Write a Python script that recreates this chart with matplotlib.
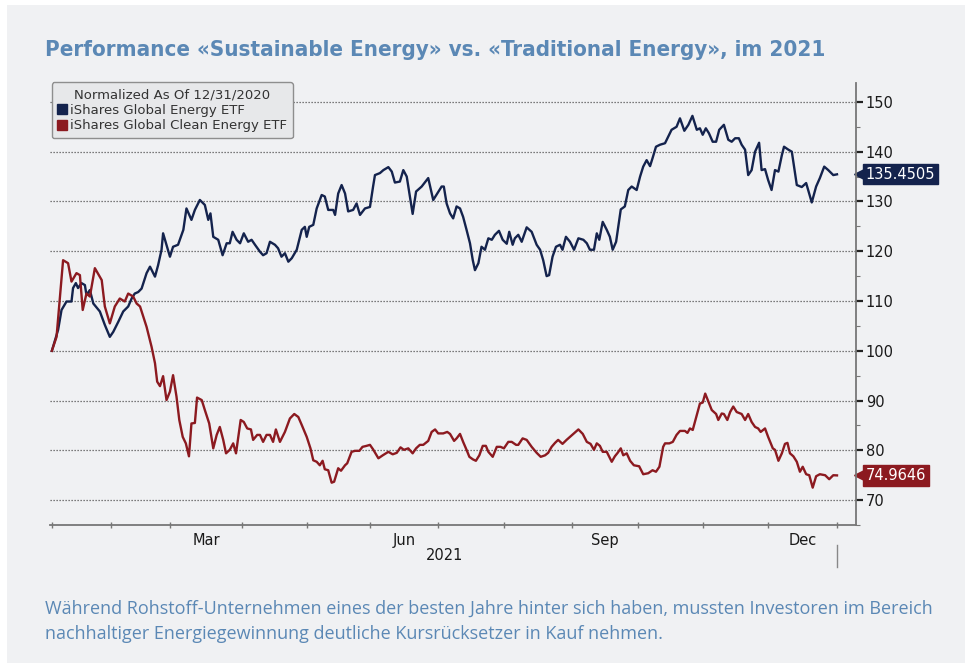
import numpy as np
import pandas as pd
import matplotlib
matplotlib.use("Agg")
import matplotlib.pyplot as plt
from matplotlib.lines import Line2D
from matplotlib.patches import Rectangle
from matplotlib import transforms

# trading sessions since 12/31/2020 (x) and normalized prices (y)
energy_x = [0, 2.0, 3.1, 4.7, 6.3, 6.8, 7.7, 8.4, 9.5, 10.6, 11.1, 12.2, 13.3, 15.4, 17.0, 18.6,
            19.7, 21.3, 22.9, 24.5, 25.6, 26.6, 27.7, 28.8, 30.4, 31.5, 33.1, 34.1, 35.2, 35.7,
            37.9, 38.9, 40.5, 42.2, 43.2, 44.8, 45.9, 47.5, 49.1, 50.2, 50.9, 51.8, 53.4, 54.8,
            56.1, 57.1, 58.0, 59.3, 60.4, 61.6, 63.0, 64.1, 65.2, 66.8, 67.8, 68.9, 70.0, 71.6,
            72.6, 73.7, 74.8, 75.9, 77.0, 78.6, 80.2, 81.2, 81.8, 82.6, 83.9, 85.0, 86.6, 87.6,
            88.7, 90.3, 90.9, 91.9, 93.0, 94.1, 95.1, 96.7, 97.8, 98.9, 100.5, 102.1, 103.1,
            103.7, 105.3, 106.4, 108.0, 109.1, 110.1, 111.7, 112.8, 113.9, 114.9, 115.8, 116.9,
            118.7, 120.8, 122.4, 125.1, 125.8, 126.7, 127.8, 128.8, 129.9, 131.0, 132.0, 133.1,
            134.2, 135.1, 135.8, 136.9, 137.9, 139.0, 140.1, 141.2, 142.2, 143.5, 144.7, 146.0,
            146.8, 147.9, 148.6, 149.7, 150.8, 152.4, 154.0, 155.6, 156.7, 157.7, 158.8, 159.6,
            160.7, 161.8, 163.1, 163.9, 165.0, 166.3, 167.6, 169.0, 170.6, 171.7, 172.7, 174.0,
            174.9, 175.7, 176.8, 178.1, 179.1, 180.0, 181.1, 182.6, 183.9, 185.0, 186.1, 187.7,
            188.8, 189.8, 190.9, 192.0, 192.8, 193.9, 195.2, 196.8, 197.8, 198.9, 200.5, 201.6,
            203.0, 204.3, 205.6, 207.0, 208.0, 208.9, 209.9, 210.9, 212.1, 213.2, 214.2, 215.7,
            217.1, 218.2, 219.3, 220.5, 221.4, 222.5, 223.5, 224.6, 225.7, 227.0, 227.8, 228.9,
            229.9, 231.0, 232.1, 233.2, 234.3, 235.0, 236.4, 237.5, 239.1, 240.7, 242.1, 243.9,
            245.3, 246.5, 247.9, 249.2, 250.8, 252]
energy_y = [100.0, 104.2, 108.2, 109.9, 109.9, 112.6, 113.6, 112.6, 113.6, 113.2, 111.2, 112.2,
            109.5, 107.9, 105.2, 102.8, 103.8, 105.8, 107.9, 108.9, 110.5, 111.5, 111.8, 112.5,
            115.6, 116.9, 114.9, 117.2, 120.3, 123.6, 118.9, 120.9, 121.3, 124.3, 128.6, 126.3,
            128.3, 130.3, 129.3, 126.3, 127.6, 122.9, 122.3, 119.2, 121.6, 121.6, 123.9, 122.3,
            121.6, 123.6, 121.9, 122.3, 121.3, 119.9, 119.2, 119.6, 121.9, 121.3, 120.6, 118.9,
            119.6, 117.9, 118.6, 120.3, 124.3, 124.9, 122.9, 124.9, 125.3, 128.6, 131.3, 131.0,
            128.3, 128.3, 127.3, 131.6, 133.3, 131.6, 128.0, 128.3, 129.6, 127.3, 128.6, 128.9,
            133.0, 135.3, 135.7, 136.3, 136.9, 136.0, 133.8, 134.0, 136.3, 135.0, 131.0, 127.5,
            132.0, 133.0, 134.7, 130.3, 133.0, 133.0, 129.6, 127.6, 126.6, 129.0, 128.6, 126.9,
            124.3, 121.6, 118.2, 116.2, 117.6, 120.9, 120.3, 122.6, 122.3, 123.3, 124.1, 122.3,
            121.5, 123.9, 121.3, 122.6, 123.3, 121.9, 124.8, 123.9, 121.3, 120.3, 118.2, 115.0,
            115.2, 118.9, 120.9, 121.3, 120.3, 122.9, 121.9, 120.3, 122.6, 122.3, 121.6, 120.3,
            120.3, 123.6, 122.3, 125.9, 124.3, 122.9, 120.3, 121.9, 128.4, 129.0, 132.3, 133.0,
            132.3, 135.0, 137.0, 138.3, 137.1, 138.7, 141.0, 141.4, 141.7, 143.0, 144.4, 145.0,
            146.7, 144.2, 145.4, 147.2, 144.4, 144.7, 143.4, 144.7, 143.7, 142.0, 142.0, 144.4,
            145.4, 142.4, 142.0, 142.7, 142.7, 141.4, 140.4, 135.3, 136.3, 140.0, 141.8, 136.3,
            136.5, 134.3, 132.3, 136.3, 136.0, 139.3, 141.0, 140.4, 140.0, 133.3, 132.9, 133.7,
            129.8, 133.0, 134.7, 137.0, 136.3, 135.3, 135.4505]

clean_x = [0, 1.5, 3.6, 5.2, 6.3, 7.9, 9.0, 9.9, 11.1, 12.2, 13.8, 16.0, 17.0, 18.6, 20.2, 21.8,
           23.4, 24.5, 26.1, 27.2, 28.3, 30.4, 32.0, 33.1, 33.8, 34.7, 35.7, 36.8, 37.9, 38.9,
           40.0, 40.9, 42.0, 43.0, 44.0, 44.8, 45.9, 46.6, 48.1, 49.1, 50.5, 51.8, 52.9, 53.9,
           55.0, 55.9, 57.1, 58.2, 59.1, 60.6, 61.6, 62.7, 63.9, 64.6, 65.9, 66.8, 67.8, 68.9,
           70.0, 71.0, 71.9, 73.2, 74.8, 76.4, 77.8, 79.1, 80.2, 81.8, 83.0, 83.9, 85.0, 86.0,
           86.9, 87.6, 88.7, 89.8, 90.6, 91.9, 92.8, 94.1, 94.8, 96.2, 97.3, 98.7, 99.7, 101.0,
           102.1, 103.1, 104.8, 106.2, 108.0, 109.4, 110.7, 111.9, 113.0, 114.4, 115.8, 116.9,
           118.1, 119.2, 120.8, 121.9, 123.0, 124.0, 125.6, 126.9, 127.8, 129.1, 129.9, 131.0,
           132.0, 133.1, 134.0, 135.1, 136.1, 137.2, 138.3, 139.3, 140.1, 141.5, 142.8, 144.0,
           145.1, 146.5, 147.6, 149.0, 149.7, 151.1, 152.4, 154.0, 155.6, 156.9, 158.3, 159.3,
           160.4, 161.5, 162.5, 163.9, 165.2, 166.3, 167.6, 169.0, 170.4, 171.7, 172.9, 174.0,
           174.9, 175.9, 176.8, 178.1, 179.7, 180.7, 181.6, 182.6, 183.4, 184.5, 185.6, 186.8,
           188.5, 189.8, 191.4, 192.8, 193.9, 195.0, 196.2, 196.8, 198.2, 199.3, 200.5, 201.6,
           203.2, 204.0, 204.8, 205.7, 207.0, 208.0, 208.9, 209.7, 210.7, 211.8, 213.2, 213.9,
           215.0, 215.7, 216.8, 217.7, 218.7, 219.8, 221.4, 222.5, 223.5, 224.6, 225.7, 226.7,
           227.5, 228.9, 229.9, 231.4, 232.1, 233.2, 234.3, 235.3, 236.1, 236.9, 238.0, 239.1,
           240.1, 241.0, 242.1, 243.1, 244.2, 245.3, 246.5, 248.2, 249.5, 250.8, 252]
clean_y = [100.0, 102.8, 118.2, 117.6, 113.9, 115.6, 115.2, 108.2, 111.5, 110.9, 116.6, 114.2,
           108.9, 105.5, 108.9, 110.5, 109.9, 111.5, 110.9, 109.5, 108.9, 104.8, 100.8, 97.5,
           93.8, 92.9, 94.9, 90.1, 91.8, 95.1, 90.8, 86.1, 82.7, 81.4, 78.8, 85.4, 85.5, 90.6,
           90.1, 88.1, 85.4, 80.4, 83.1, 84.7, 82.1, 79.4, 80.1, 81.4, 79.4, 86.1, 85.7, 84.4,
           84.2, 82.1, 83.1, 83.1, 81.7, 83.1, 83.1, 81.7, 84.2, 81.7, 83.7, 86.4, 87.3, 86.7,
           85.1, 82.7, 80.4, 78.0, 77.7, 77.0, 77.9, 76.2, 76.0, 73.5, 73.7, 76.4, 75.9, 77.0,
           77.4, 79.7, 79.9, 79.9, 80.7, 80.9, 81.1, 80.2, 78.4, 79.0, 79.7, 79.2, 79.5, 80.6,
           80.1, 80.4, 79.4, 80.4, 81.1, 81.1, 81.9, 83.7, 84.2, 83.4, 83.4, 83.7, 83.3, 81.9,
           82.4, 83.3, 81.7, 80.1, 78.7, 78.2, 77.9, 79.0, 80.9, 80.9, 79.7, 78.7, 80.7, 80.7,
           80.4, 81.7, 81.7, 81.1, 81.1, 82.4, 82.1, 80.7, 79.5, 78.7, 79.0, 79.5, 80.7, 81.5,
           82.1, 81.3, 82.1, 82.7, 83.4, 84.2, 83.3, 81.7, 81.3, 80.1, 81.4, 80.9, 79.7, 79.7,
           77.7, 78.8, 79.5, 80.4, 79.0, 79.4, 77.9, 77.0, 76.8, 75.2, 75.4, 76.0, 75.7, 76.7,
           80.7, 81.4, 81.4, 81.7, 83.1, 83.9, 83.9, 83.5, 84.4, 84.1, 87.1, 89.4, 89.6, 91.4,
           89.8, 88.1, 87.3, 86.1, 87.4, 87.3, 86.1, 87.7, 88.8, 87.7, 87.3, 86.1, 87.3, 85.7,
           84.7, 84.4, 83.7, 84.4, 82.7, 80.4, 80.1, 77.9, 79.4, 81.3, 81.5, 79.4, 78.8, 77.7,
           75.7, 76.7, 75.2, 75.0, 72.5, 74.8, 75.2, 75.0, 74.2, 75.0, 74.9646]

holidays = ["2021-01-01", "2021-01-18", "2021-02-15", "2021-04-02", "2021-05-31",
            "2021-07-05", "2021-09-06", "2021-11-25", "2021-12-24"]
month_names = ["Mar", "Jun", "Sep", "Dec"]
series_names = ["iShares Global Energy ETF", "iShares Global Clean Energy ETF"]

NAVY = "#14234d"
DARKRED = "#8c1a20"
BG = "#f0f1f3"
TEXTBLUE = "#5b88b5"

# trading calendar -> month boundaries
sessions = pd.bdate_range("2020-12-31", "2021-12-31")
sessions = sessions[~sessions.isin(pd.to_datetime(holidays))]
month_first = [np.flatnonzero((sessions.year == 2021) & (sessions.month == m))[0] for m in range(1, 13)]
month_ticks = [i - 1 for i in month_first] + [len(sessions) - 1]
label_pos = [(month_ticks[m - 1] + month_ticks[m]) / 2 for m in (3, 6, 9, 12)]

fig = plt.figure(figsize=(9.65, 6.63), dpi=100, facecolor="white")
fig.patches.append(Rectangle((7 / 965, 0), 1, 1 - 5 / 663, transform=fig.transFigure,
                             facecolor=BG, edgecolor="none", zorder=-1))

ax = fig.add_axes([50 / 965, 1 - 525 / 663, 806 / 965, 442 / 663])
ax.set_facecolor(BG)

ax.plot(energy_x, energy_y, color=NAVY, lw=1.7, zorder=3)
ax.plot(clean_x, clean_y, color=DARKRED, lw=1.7, zorder=3)

ax.set_xlim(-0.6, 258.1)
ax.set_ylim(65, 153.8)

ax.yaxis.tick_right()
ax.set_yticks(np.arange(70, 151, 10))
ax.set_yticks(np.arange(65, 151, 5), minor=True)
ax.tick_params(axis="y", which="major", direction="out", length=5, width=1.6,
               color="#222222", labelsize=10.5, labelcolor="#1a1a1a", pad=2)
ax.tick_params(axis="y", which="minor", direction="out", length=3, width=0.8, color="#777777")
ax.grid(axis="y", which="major", linestyle=(0, (1, 1.4)), color="#555555", lw=0.9)

ax.set_xticks(label_pos)
ax.set_xticklabels(month_names)
ax.set_xticks(month_ticks, minor=True)
ax.tick_params(axis="x", which="major", length=0, labelsize=10.5, labelcolor="#1a1a1a", pad=6)
ax.tick_params(axis="x", which="minor", direction="inout", length=4, width=1, color="#777777")

for side in ["top", "left"]:
    ax.spines[side].set_visible(False)
for side in ["right", "bottom"]:
    ax.spines[side].set_color("#777777")
    ax.spines[side].set_linewidth(1.3)

xaxes = transforms.blended_transform_factory(ax.transData, ax.transAxes)
ax.text(np.mean([month_ticks[0], month_ticks[-1]]), -0.068, "2021", transform=xaxes,
        ha="center", va="center", fontsize=10.5, color="#1a1a1a")
ax.plot([month_ticks[-1]] * 2, [-0.045, -0.095], transform=xaxes, color="#888888",
        lw=1, clip_on=False)

# last value tags
yaxes = transforms.blended_transform_factory(ax.transAxes, ax.transData)
for val, col in [(energy_y[-1], NAVY), (clean_y[-1], DARKRED)]:
    ax.plot(1.0045, val, marker="<", markersize=8, color=col, transform=yaxes, clip_on=False)
    ax.text(1.012, val, f"{val:.4f}", transform=yaxes, ha="left", va="center",
            fontsize=10.5, color="white",
            bbox=dict(boxstyle="square,pad=0.18", facecolor=col, edgecolor=col))

handles = [Line2D([], [], marker="s", ls="none", color=NAVY, markersize=6.5),
           Line2D([], [], marker="s", ls="none", color=DARKRED, markersize=6.5)]
leg = ax.legend(handles, series_names, title="Normalized As Of 12/31/2020",
                loc="upper left", bbox_to_anchor=(0.002, 1.002), borderaxespad=0,
                fontsize=9.5, title_fontsize=9.5, handlelength=0.7, handletextpad=0.25,
                labelspacing=0.2, borderpad=0.45, frameon=True, fancybox=True,
                facecolor="#e7e8ea", edgecolor="#8e8e8e", framealpha=1)
leg.get_frame().set_linewidth(1.0)
leg.get_title().set_color("#333333")
for t in leg.get_texts():
    t.set_color("#333333")

fig.text(45 / 965, 1 - 56 / 663,
         "Performance «Sustainable Energy» vs. «Traditional Energy», im 2021",
         fontsize=16, fontweight="bold", fontstretch="condensed", color=TEXTBLUE,
         va="baseline", family="DejaVu Sans")
fig.text(45 / 965, 1 - 609 / 663,
         "Während Rohstoff-Unternehmen eines der besten Jahre hinter sich haben, mussten Investoren im Bereich",
         fontsize=13, color=TEXTBLUE, va="center", family="Open Sans")
fig.text(45 / 965, 1 - 634 / 663,
         "nachhaltiger Energiegewinnung deutliche Kursrücksetzer in Kauf nehmen.",
         fontsize=13, color=TEXTBLUE, va="center", family="Open Sans")

fig.savefig("out.png", dpi=100, facecolor=fig.get_facecolor())
